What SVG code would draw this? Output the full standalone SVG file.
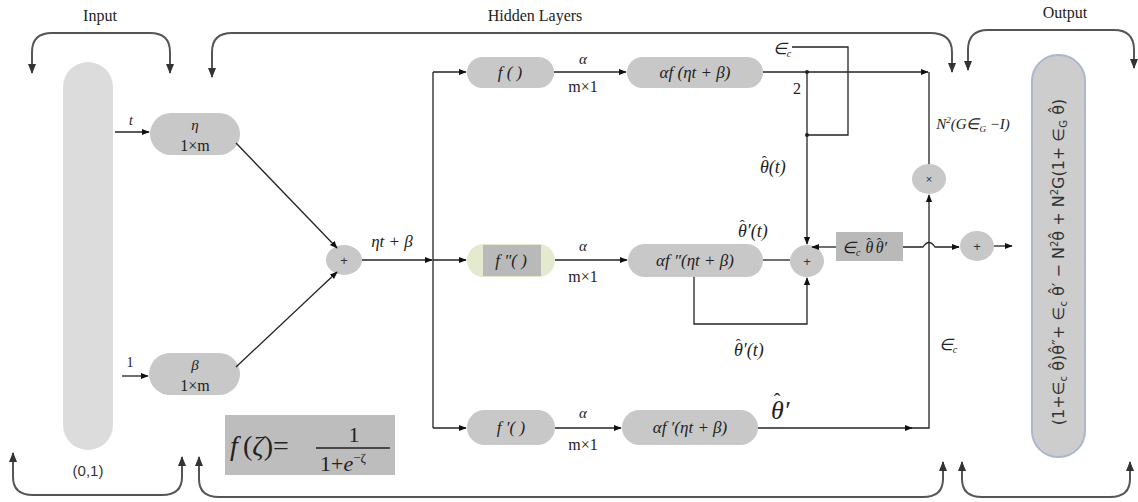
<svg xmlns="http://www.w3.org/2000/svg" width="1138" height="502" viewBox="0 0 1138 502">
<defs>
<marker id="ah" viewBox="0 0 10 10" refX="9" refY="5" markerWidth="6" markerHeight="6" orient="auto-start-reverse"><path d="M0,1 L10,5 L0,9 z" fill="#111"/></marker>
<marker id="bh" viewBox="0 0 10 10" refX="9" refY="5" markerWidth="5" markerHeight="5" orient="auto-start-reverse"><path d="M0,1 L10,5 L0,9 z" fill="#333"/></marker>
<style>
.br{fill:none;stroke:#555;stroke-width:2}
.ln{fill:none;stroke:#222;stroke-width:1.3}
.pill{fill:#c8c8c8}
.t{font-family:"Liberation Serif",serif;fill:#222}
.i{font-family:"Liberation Serif",serif;font-style:italic;fill:#222}
.hat{font-style:normal}
.s{font-family:"Liberation Sans",sans-serif;fill:#333}
</style>
</defs>
<rect width="1138" height="502" fill="#fff"/>
<g id="braces">
<path class="br" marker-start="url(#bh)" marker-end="url(#bh)" d="M32,73 V52 Q32,33 52,33 H150 Q170,33 170,52 V73"/>
<path class="br" marker-start="url(#bh)" marker-end="url(#bh)" d="M212,77 V52 Q212,33 232,33 H930 Q952,33 952,52 V72"/>
<path class="br" marker-start="url(#bh)" marker-end="url(#bh)" d="M968,70 V50 Q968,30 988,30 H1114 Q1134,30 1134,50 V68"/>
<path class="br" marker-start="url(#bh)" marker-end="url(#bh)" d="M13,453 V477 Q13,495 33,495 H162 Q182,495 182,477 V457"/>
<path class="br" marker-start="url(#bh)" marker-end="url(#bh)" d="M199,457 V479 Q199,497 219,497 H923 Q943,497 943,479 V462"/>
<path class="br" marker-start="url(#bh)" marker-end="url(#bh)" d="M962,462 V479 Q962,497 982,497 H1110 Q1130,497 1130,479 V462"/>
<text class="t" x="100" y="21" font-size="16" text-anchor="middle">Input</text>
<text class="t" x="535" y="21" font-size="16" text-anchor="middle">Hidden Layers</text>
<text class="t" x="1065" y="18" font-size="16" text-anchor="middle">Output</text>
</g>
<g id="input">
<rect x="63" y="62" width="50" height="388" rx="25" fill="#dcdcdc"/>
<text class="s" x="88" y="476" font-size="15" text-anchor="middle">(0,1)</text>
</g>
<g id="eta">
<rect class="pill" x="150" y="113" width="90" height="42" rx="21"/>
<text class="i" x="195" y="130" font-size="15" text-anchor="middle">η</text>
<text class="t" x="195" y="151" font-size="16" text-anchor="middle">1×m</text>
</g>
<g id="beta">
<rect class="pill" x="149" y="353" width="91" height="42" rx="21"/>
<text class="i" x="195" y="370" font-size="15" text-anchor="middle">β</text>
<text class="t" x="195" y="391" font-size="16" text-anchor="middle">1×m</text>
</g>
<g id="sum1">
<ellipse cx="344" cy="260" rx="18" ry="15" fill="#c8c8c8"/>
<text class="s" x="344" y="265" font-size="13" text-anchor="middle">+</text>
</g>
<g id="f1">
<rect class="pill" x="467" y="57" width="87" height="31" rx="15.5"/>
<text class="i" x="510" y="78" font-size="17" text-anchor="middle">f ( )</text>
</g>
<g id="af1">
<rect class="pill" x="627" y="57" width="136" height="31" rx="15.5"/>
<text class="i" x="695" y="78" font-size="17" text-anchor="middle">αf (ηt + β)</text>
</g>
<g id="f2">
<rect x="467" y="244" width="88" height="33" rx="16.5" fill="#e3ead0"/>
<rect x="483" y="245" width="58" height="31" fill="#b9b9b9"/>
<text class="i" x="511" y="266" font-size="17" text-anchor="middle">f ″(  )</text>
</g>
<g id="af2">
<rect class="pill" x="628" y="244" width="135" height="33" rx="16.5"/>
<text class="i" x="695" y="266" font-size="17" text-anchor="middle">αf ″(ηt + β)</text>
</g>
<g id="sum2">
<ellipse cx="807" cy="261" rx="17" ry="16" fill="#c8c8c8"/>
<text class="s" x="807" y="266" font-size="13" text-anchor="middle">+</text>
</g>
<g id="f3">
<rect class="pill" x="467" y="410" width="88" height="35" rx="17.5"/>
<text class="i" x="511" y="433" font-size="17" text-anchor="middle">f ′(  )</text>
</g>
<g id="af3">
<rect class="pill" x="622" y="410" width="136" height="35" rx="17.5"/>
<text class="i" x="690" y="433" font-size="17" text-anchor="middle">αf ′(ηt + β)</text>
</g>
<g id="mul">
<ellipse cx="929" cy="179" rx="17" ry="15" fill="#c8c8c8"/>
<text class="s" x="929" y="183" font-size="11" text-anchor="middle">×</text>
</g>
<g id="box">
<rect x="836" y="232" width="67" height="29" fill="#b9b9b9"/>
<text class="i" x="842" y="253" font-size="16">∈<tspan font-size="10" dy="3">c</tspan><tspan dy="-3" dx="5">θ</tspan><tspan class="hat" font-size="13" dx="-6.5" dy="-6">ˆ</tspan><tspan dx="4.5" dy="6">θ</tspan><tspan class="hat" font-size="13" dx="-6.5" dy="-6">ˆ</tspan><tspan dx="2.2" dy="6">′</tspan></text>
</g>
<g id="sum3">
<ellipse cx="977" cy="246" rx="17" ry="15" fill="#c8c8c8"/>
<text class="s" x="977" y="251" font-size="13" text-anchor="middle">+</text>
</g>
<g id="output">
<rect x="1032" y="55" width="53" height="402" rx="26" fill="#cdcdcd" stroke="#a9b8cc" stroke-width="2"/>
<text transform="translate(1064,262) rotate(-90)" font-family="'DejaVu Sans',sans-serif" fill="#333" font-size="16" text-anchor="middle">(1+∈<tspan font-size="10" dy="3">c</tspan><tspan dy="-3"> θ̂)θ̂″+ ∈</tspan><tspan font-size="10" dy="3">c</tspan><tspan dy="-3"> θ̂′ − N</tspan><tspan font-size="10" dy="-6">2</tspan><tspan dy="6">θ̂ + N</tspan><tspan font-size="10" dy="-6">2</tspan><tspan dy="6">G(1+ ∈</tspan><tspan font-size="10" dy="3">G</tspan><tspan dy="-3"> θ̂)</tspan></text>
</g>
<g id="formula">
<rect x="225" y="415" width="170" height="60" fill="#bdbdbd"/>
<text class="i" x="230" y="455" font-size="28">f</text>
<text class="t" x="243" y="455" font-size="28">(<tspan font-style="italic">ζ</tspan>)=</text>
<text class="t" x="354" y="442" font-size="22" text-anchor="middle">1</text>
<line x1="316" y1="448" x2="390" y2="448" stroke="#222" stroke-width="1.5"/>
<text class="t" x="320" y="471" font-size="22">1+<tspan font-style="italic">e</tspan><tspan font-size="13" dy="-9">−ζ</tspan></text>
</g>
<g id="connectors">
<line class="ln" x1="115" y1="132" x2="149" y2="132" marker-end="url(#ah)"/>
<line class="ln" x1="122" y1="376" x2="148" y2="376" marker-end="url(#ah)"/>
<line class="ln" x1="236" y1="143" x2="337" y2="248" marker-end="url(#ah)"/>
<line class="ln" x1="236" y1="367" x2="337" y2="272" marker-end="url(#ah)"/>
<line class="ln" x1="362" y1="260" x2="432" y2="260" marker-end="url(#ah)"/>
<path class="ln" d="M433,72 V428"/>
<line class="ln" x1="433" y1="72" x2="466" y2="72" marker-end="url(#ah)"/>
<line class="ln" x1="433" y1="260" x2="466" y2="260" marker-end="url(#ah)"/>
<line class="ln" x1="433" y1="428" x2="466" y2="428" marker-end="url(#ah)"/>
<line class="ln" x1="554" y1="72" x2="626" y2="72" marker-end="url(#ah)"/>
<line class="ln" x1="555" y1="260" x2="627" y2="260" marker-end="url(#ah)"/>
<line class="ln" x1="555" y1="428" x2="621" y2="428" marker-end="url(#ah)"/>
<line class="ln" x1="763" y1="72" x2="928" y2="72" marker-end="url(#ah)"/>
<path class="ln" d="M929,72 V164"/>
<line class="ln" x1="807" y1="72" x2="807" y2="244" marker-end="url(#ah)"/>
<path class="ln" d="M792,47 H848 V135 H807"/>
<circle cx="807" cy="72" r="2" fill="#222"/>
<circle cx="807" cy="135" r="2" fill="#222"/>
<line class="ln" x1="763" y1="260" x2="790" y2="260"/>
<path class="ln" d="M694,277 V324 H807 V278" marker-end="url(#ah)"/>
<line class="ln" x1="836" y1="247" x2="812" y2="247" marker-end="url(#ah)"/>
<path class="ln" d="M903,247 H923 Q929,238 935,247 H959" marker-end="url(#ah)"/>
<line class="ln" x1="994" y1="246" x2="1012" y2="246" marker-end="url(#ah)"/>
<line class="ln" x1="758" y1="428" x2="912" y2="428" marker-end="url(#ah)"/>
<path class="ln" d="M910,428 H929 V195" marker-end="url(#ah)"/>
<text class="i" x="131" y="125" font-size="14" text-anchor="middle">t</text>
<text class="t" x="130" y="367" font-size="14" text-anchor="middle">1</text>
<text class="i" x="392" y="247" font-size="17" text-anchor="middle">ηt + β</text>
<text class="i" x="583" y="64" font-size="15" text-anchor="middle">α</text>
<text class="t" x="583" y="92" font-size="16" text-anchor="middle">m×1</text>
<text class="i" x="583" y="251" font-size="15" text-anchor="middle">α</text>
<text class="t" x="583" y="282" font-size="16" text-anchor="middle">m×1</text>
<text class="i" x="583" y="418" font-size="15" text-anchor="middle">α</text>
<text class="t" x="583" y="450" font-size="16" text-anchor="middle">m×1</text>
<text class="i" x="782" y="54" font-size="16" text-anchor="middle">∈<tspan font-size="10" dy="3">c</tspan></text>
<text class="t" x="797" y="94" font-size="16" text-anchor="middle">2</text>
<text class="i" x="760" y="173" font-size="18">θ<tspan class="hat" font-size="15" dx="-7" dy="-7">ˆ</tspan><tspan dx="2" dy="7">(t)</tspan></text>
<text class="i" x="738" y="237" font-size="18">θ<tspan class="hat" font-size="15" dx="-7" dy="-7">ˆ</tspan><tspan dx="2" dy="7">′(t)</tspan></text>
<text class="i" x="734" y="356" font-size="18">θ<tspan class="hat" font-size="15" dx="-7" dy="-7">ˆ</tspan><tspan dx="2" dy="7">′(t)</tspan></text>
<text class="i" x="771" y="419" font-size="26">θ<tspan class="hat" font-size="20" dx="-10" dy="-11">ˆ</tspan><tspan dx="3.3" dy="11">′</tspan></text>
<text class="i" x="973" y="129" font-size="15" text-anchor="middle">N<tspan font-size="9" dy="-6">2</tspan><tspan dy="6">(G∈</tspan><tspan font-size="9" dy="3">G</tspan><tspan dy="-3"> −I)</tspan></text>
<text class="i" x="948" y="350" font-size="16" text-anchor="middle">∈<tspan font-size="10" dy="3">c</tspan></text>
</g>
</svg>
